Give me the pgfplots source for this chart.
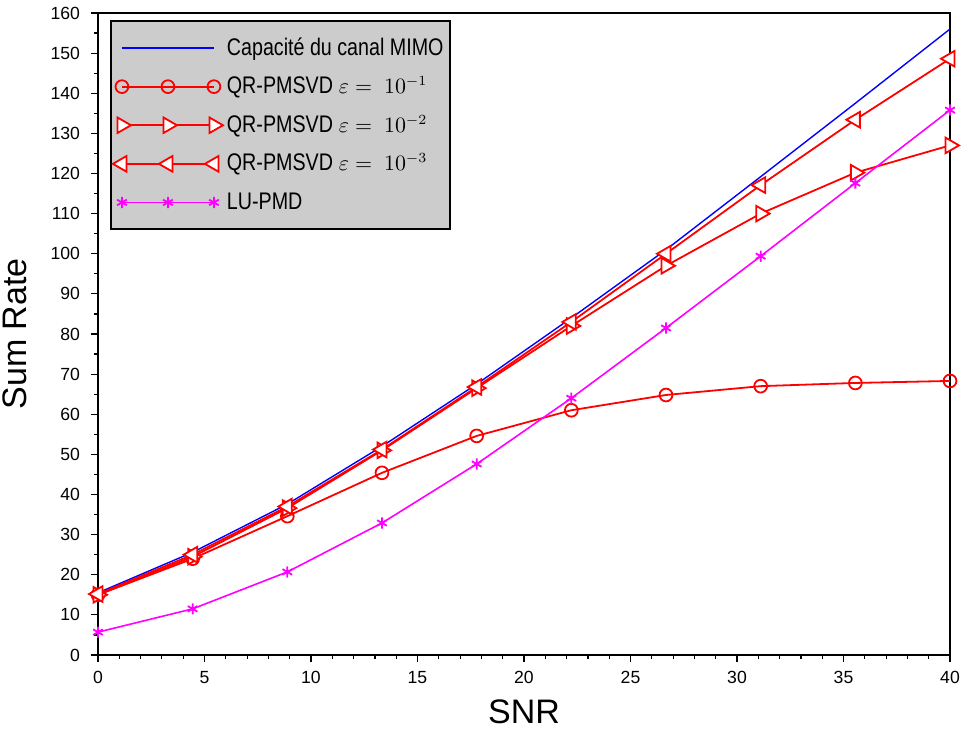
\documentclass[border=0pt]{standalone}
\usepackage{pgfplots}
\pgfplotsset{compat=1.18}
\usepackage{fontspec}
\setmainfont{Liberation Sans}
\definecolor{mag}{RGB}{255,0,255}
\definecolor{rd}{RGB}{255,0,0}
\definecolor{bl}{RGB}{0,0,255}
\newcommand{\legt}[1]{\scalebox{0.82}[1]{\fontsize{12}{14}\selectfont #1}}
\newcommand{\lege}[1]{{\fontsize{10.5}{12}\selectfont\ $\varepsilon=\ 10^{#1}$}}
\begin{document}
\begin{tikzpicture}
\begin{axis}[
  width=426pt, height=321pt, scale only axis,
  xmin=0, xmax=40, ymin=0, ymax=160,
  xtick={0,5,...,40}, ytick={0,10,...,160},
  minor x tick num=4, minor y tick num=1,
  tick align=outside, xtick pos=bottom, ytick pos=left,
  major tick length=3.5pt, minor tick length=2pt,
  every tick/.style={black, line width=0.6pt},
  axis line style={line width=1.3pt},
  /pgf/number format/assume math mode=true,
  ticklabel style={font=\fontsize{8.8}{10}\selectfont},
  xticklabel style={yshift=-1pt},
  yticklabel style={xshift=-2pt},
  xlabel={\fontsize{17}{20}\selectfont SNR},
  ylabel={\fontsize{17}{20}\selectfont Sum Rate},
  xlabel style={yshift=-1pt},
  ylabel style={yshift=5pt},
  legend style={at={(0.014,0.989)}, anchor=north west, fill=black!20, draw=black, line width=1pt,
    row sep=2.3pt, inner xsep=1pt, inner ysep=5pt,
    nodes={text height=10pt, text depth=3pt, inner sep=2pt}},
  legend cell align=left,
  legend image code/.code={\draw[#1, mark repeat=1, mark phase=1] plot coordinates {(0pt,0pt) (23pt,0pt) (46pt,0pt)};},
]
\addplot[bl, line width=0.7pt, mark=none] coordinates {
(0,15.5) (4.444,25.6) (8.889,37.6) (13.333,52.0) (17.778,67.5) (22.222,84.0) (26.667,101.0) (31.111,119.2) (35.556,137.5) (40,156.0)};
\addlegendentry{\legt{Capacité du canal MIMO}}
\addplot[rd, line width=0.9pt, mark=o, mark size=3.2pt, mark options={fill=white, line width=0.9pt}] coordinates {
(0,15.0) (4.444,24.0) (8.889,34.6) (13.333,45.4) (17.778,54.6) (22.222,61.0) (26.667,64.8) (31.111,67.0) (35.556,67.8) (40,68.3)};
\addlegendentry{\legt{QR-PMSVD}\lege{-1}}
\addplot[rd, line width=0.9pt, mark=triangle*, mark size=4.5pt, mark options={fill=white, rotate=-90, line width=0.9pt}] coordinates {
(0,15.0) (4.444,24.5) (8.889,36.6) (13.333,51.0) (17.778,66.5) (22.222,82.0) (26.667,97.0) (31.111,110.0) (35.556,120.2) (40,127.0)};
\addlegendentry{\legt{QR-PMSVD}\lege{-2}}
\addplot[rd, line width=0.9pt, mark=triangle*, mark size=4.5pt, mark options={fill=white, rotate=90, line width=0.9pt}] coordinates {
(0,15.2) (4.444,25.0) (8.889,37.0) (13.333,51.2) (17.778,66.8) (22.222,83.0) (26.667,100.0) (31.111,117.1) (35.556,133.4) (40,148.6)};
\addlegendentry{\legt{QR-PMSVD}\lege{-3}}
\addplot[mag, line width=0.8pt, mark=asterisk, mark size=2.8pt, mark options={line width=0.9pt}] coordinates {
(0,5.7) (4.444,11.5) (8.889,20.7) (13.333,32.9) (17.778,47.6) (22.222,64.0) (26.667,81.5) (31.111,99.4) (35.556,117.6) (40,135.8)};
\addlegendentry{\legt{LU-PMD}}
\end{axis}
\pgfresetboundingbox
\path[use as bounding box] ([xshift=-49pt,yshift=-38pt]current axis.south west) rectangle ([xshift=5.5pt,yshift=6.5pt]current axis.north east);
\end{tikzpicture}
\end{document}
